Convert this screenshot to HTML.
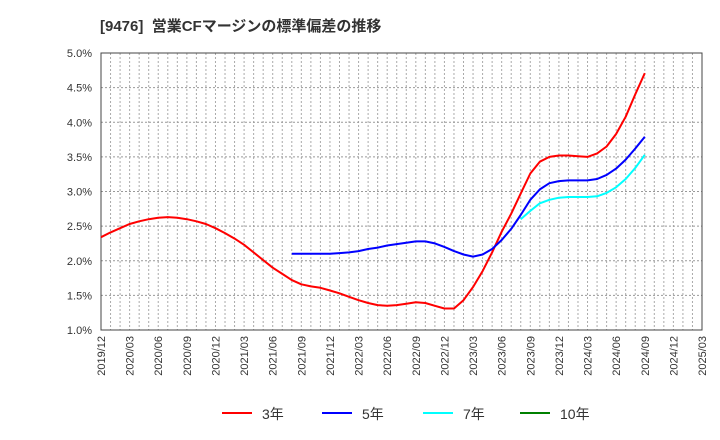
<!DOCTYPE html>
<html><head><meta charset="utf-8"><style>
body{margin:0;background:#fff;font-family:"Liberation Sans","Noto Sans CJK JP",sans-serif;}
</style></head><body>
<svg id="c" width="720" height="440" xmlns="http://www.w3.org/2000/svg" style="display:block">
<text x="100" y="31" font-size="15" font-weight="bold" fill="#333" style="white-space:pre" font-family="Liberation Sans, Noto Sans CJK JP, sans-serif">[9476]  営業CFマージンの標準偏差の推移</text>
<g id="grid"></g><g id="axes"></g><g id="series"></g><g id="legend"></g>
</svg>
<script>
const xLabels=["2019/12","2020/03","2020/06","2020/09","2020/12","2021/03","2021/06","2021/09","2021/12","2022/03","2022/06","2022/09","2022/12","2023/03","2023/06","2023/09","2023/12","2024/03","2024/06","2024/09","2024/12","2025/03"];
const yTicks=[1.0,1.5,2.0,2.5,3.0,3.5,4.0,4.5,5.0];
const s3=[2.34,2.41,2.47,2.53,2.57,2.60,2.62,2.63,2.62,2.60,2.57,2.53,2.47,2.40,2.32,2.23,2.12,2.01,1.90,1.81,1.72,1.66,1.63,1.61,1.57,1.53,1.48,1.43,1.39,1.36,1.35,1.36,1.38,1.40,1.39,1.35,1.31,1.31,1.43,1.62,1.85,2.12,2.42,2.68,2.97,3.26,3.43,3.50,3.52,3.52,3.51,3.50,3.55,3.65,3.83,4.08,4.40,4.71];
const s5Start=20;
const s5=[2.10,2.10,2.10,2.10,2.10,2.11,2.12,2.14,2.17,2.19,2.22,2.24,2.26,2.28,2.28,2.25,2.20,2.14,2.09,2.06,2.09,2.17,2.30,2.46,2.66,2.88,3.03,3.12,3.15,3.16,3.16,3.16,3.18,3.24,3.33,3.46,3.62,3.79];
const s7Start=44;
const s7=[2.60,2.72,2.83,2.88,2.91,2.92,2.92,2.92,2.93,2.98,3.06,3.18,3.34,3.53];
const legendNames=["3年","5年","7年","10年"];
const legendColors=["#ff0000","#0000ff","#00ffff","#008000"];

const L=101,R=702,T=53,B=330,NM=63;
const NS="http://www.w3.org/2000/svg";
const xS=i=>L+(R-L)*i/NM;
const yS=v=>B-(v-1)/4*(B-T);
function mk(tag,attrs,parent){const e=document.createElementNS(NS,tag);for(const k in attrs)e.setAttribute(k,attrs[k]);parent.appendChild(e);return e;}
const grid=document.getElementById('grid'),axes=document.getElementById('axes'),ser=document.getElementById('series'),leg=document.getElementById('legend');
for(let m=1;m<NM;m++){const l=mk('line',{x1:xS(m),x2:xS(m),y1:T,y2:B,stroke:'#aaa','stroke-dasharray':'2,2','stroke-width':1},grid);

}
yTicks.forEach(v=>{const y=yS(v);
const l=mk('line',{x1:L,x2:R,y1:y,y2:y,stroke:'#999','stroke-dasharray':'2,2','stroke-width':1},grid);


const t=mk('text',{x:92,y:y+4,'text-anchor':'end','font-size':11,fill:'#333'},axes);t.textContent=v.toFixed(1)+'%';

});
xLabels.forEach((s,i)=>{const x=xS(i*3);
const t=mk('text',{x:0,y:0,'text-anchor':'end','font-size':11,fill:'#333',transform:`translate(${x+4},336) rotate(-90)`},axes);t.textContent=s;

});
const fr=mk('rect',{x:L,y:T,width:R-L,height:B-T,fill:'none',stroke:'#444','stroke-width':1},axes);


function line(arr,start,color,name){const d=arr.map((v,i)=>(i?'L':'M')+xS(start+i).toFixed(1)+','+yS(v).toFixed(1)).join(' ');
const p=mk('path',{d:d,fill:'none',stroke:color,'stroke-width':2,'stroke-linejoin':'round'},ser);

}
line(s3,0,'#ff0000','series-3y');
line(s5,s5Start,'#0000ff','series-5y');
line(s7,s7Start,'#00ffff','series-7y');
const lx=[222,322,423,520];
legendNames.forEach((n,i)=>{const g=mk('g',{},leg);


mk('line',{x1:lx[i],x2:lx[i]+30,y1:413,y2:413,stroke:legendColors[i],'stroke-width':2},g);
const t=mk('text',{x:lx[i]+40,y:419,'font-size':14,fill:'#333'},g);t.textContent=n;});
</script>
</body></html>
